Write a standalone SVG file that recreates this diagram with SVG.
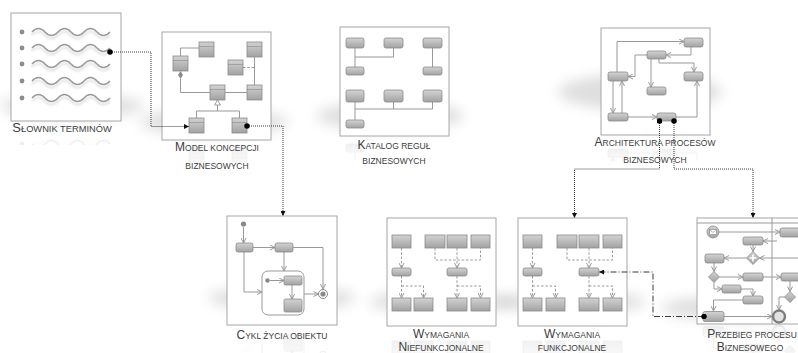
<svg xmlns="http://www.w3.org/2000/svg" xmlns:xlink="http://www.w3.org/1999/xlink" width="798" height="353" viewBox="0 0 798 353">
  <defs>
    <style>
      .frame{fill:#fff;stroke:#a6a6a6;stroke-width:1}
      .sh{fill:url(#grey);stroke:#8a8a8a;stroke-width:0.8}
      .hdr{stroke:#8a8a8a;stroke-width:0.6}
      .ln{fill:none;stroke:#999;stroke-width:1}
      .lnA{fill:none;stroke:#999;stroke-width:1;marker-end:url(#open)}
      .dsh{fill:none;stroke:#999;stroke-width:1;stroke-dasharray:2.5 1.8}
      .dshA{fill:none;stroke:#999;stroke-width:1;stroke-dasharray:2.5 1.8;marker-end:url(#open)}
      .conn{fill:none;stroke:#3a3a3a;stroke-width:1;stroke-dasharray:1 1;marker-start:url(#dot);marker-end:url(#tri)}
      .dashdot{fill:none;stroke:#3a3a3a;stroke-width:1;stroke-dasharray:6 2 1 2;marker-start:url(#dot);marker-end:url(#tri)}
      .wave{fill:none;stroke:#9a9a9a;stroke-width:1.4}
      .waveSh{fill:none;stroke:#000;stroke-width:2.2;opacity:0.12}
      .lbl{font-family:"Liberation Sans",Arial,sans-serif;font-size:8.5px;fill:#3c3c3c;text-anchor:middle}
      .cap{font-size:12px}
      .floor{fill:#000;opacity:0.13;filter:url(#soft)}
      .refl{opacity:0.14}
    </style>
    <linearGradient id="grey" x1="0" y1="0" x2="0" y2="1">
      <stop offset="0" stop-color="#d3d3d3"/>
      <stop offset="1" stop-color="#a2a2a2"/>
    </linearGradient>
    <filter id="soft" x="-50%" y="-100%" width="200%" height="300%">
      <feGaussianBlur stdDeviation="7"/>
    </filter>
    <filter id="blur1" x="-10%" y="-50%" width="120%" height="200%">
      <feGaussianBlur stdDeviation="1"/>
    </filter>
    <marker id="open" viewBox="0 0 6 6" refX="5.5" refY="3" markerWidth="6" markerHeight="6" markerUnits="userSpaceOnUse" orient="auto">
      <path d="M0.5,0.5 L5.5,3 L0.5,5.5" fill="none" stroke="#999" stroke-width="1"/>
    </marker>
    <marker id="tri" viewBox="0 0 6 6" refX="6" refY="3" markerWidth="5" markerHeight="5" markerUnits="userSpaceOnUse" orient="auto">
      <path d="M0,0 L6,3 L0,6 z" fill="#111"/>
    </marker>
    <marker id="dot" viewBox="0 0 6 6" refX="3" refY="3" markerWidth="5.5" markerHeight="5.5" markerUnits="userSpaceOnUse">
      <circle cx="3" cy="3" r="3" fill="#000"/>
    </marker>
    <clipPath id="cpSl"><rect x="0" y="121" width="130" height="24"/></clipPath>
    <clipPath id="cpMo"><rect x="160" y="140" width="115" height="24"/></clipPath>
    <clipPath id="cpKa"><rect x="338" y="136" width="115" height="24"/></clipPath>
    <clipPath id="cpAr"><rect x="599" y="135" width="115" height="26"/></clipPath>
    <clipPath id="cpCy"><rect x="225" y="325" width="115" height="28"/></clipPath>
    <clipPath id="cpWn"><rect x="385" y="326" width="115" height="27"/></clipPath>
    <clipPath id="cpWf"><rect x="516" y="326" width="115" height="27"/></clipPath>
    <clipPath id="cpPr"><rect x="695" y="324" width="110" height="29"/></clipPath>
  </defs>

  <rect width="798" height="353" fill="#fff"/>

  <!-- soft floor shadows under the panels -->
  <g id="floor-shadows">
    <ellipse class="floor" cx="72" cy="106" rx="72" ry="12"/>
    <ellipse class="floor" cx="214" cy="122" rx="74" ry="13"/>
    <ellipse class="floor" cx="390" cy="116" rx="74" ry="14"/>
    <ellipse class="floor" cx="640" cy="92" rx="82" ry="18"/>
    <ellipse class="floor" cx="282" cy="298" rx="74" ry="12"/>
    <ellipse class="floor" cx="441" cy="302" rx="72" ry="11"/>
    <ellipse class="floor" cx="572" cy="302" rx="74" ry="11"/>
    <ellipse class="floor" cx="738" cy="308" rx="78" ry="12"/>
  </g>

  <!-- Słownik terminów -->
  <g id="slownik">
    <rect class="frame" x="11" y="13" width="110" height="108"/>
    <g id="slownik-art">
      <g fill="#8c8c8c">
        <circle cx="22" cy="32" r="2.4"/>
        <circle cx="22" cy="48" r="2.4"/>
        <circle cx="22" cy="64" r="2.4"/>
        <circle cx="22" cy="81" r="2.4"/>
        <circle cx="22" cy="98" r="2.4"/>
      </g>
      <g filter="url(#blur1)">
        <path class="waveSh" d="M32,35 q6.5,-7 13,0 t13,0 t13,0 t13,0 t13,0 t13,0"/>
        <path class="waveSh" d="M32,51 q6.5,-7 13,0 t13,0 t13,0 t13,0 t13,0 t13,0"/>
        <path class="waveSh" d="M32,67 q6.5,-7 13,0 t13,0 t13,0 t13,0 t13,0 t13,0"/>
        <path class="waveSh" d="M32,84 q6.5,-7 13,0 t13,0 t13,0 t13,0 t13,0 t13,0"/>
        <path class="waveSh" d="M32,101 q6.5,-7 13,0 t13,0 t13,0 t13,0 t13,0 t13,0"/>
      </g>
      <path class="wave" d="M32,32 q6.5,-7 13,0 t13,0 t13,0 t13,0 t13,0 t13,0"/>
      <path class="wave" d="M32,48 q6.5,-7 13,0 t13,0 t13,0 t13,0 t13,0 t13,0"/>
      <path class="wave" d="M32,64 q6.5,-7 13,0 t13,0 t13,0 t13,0 t13,0 t13,0"/>
      <path class="wave" d="M32,81 q6.5,-7 13,0 t13,0 t13,0 t13,0 t13,0 t13,0"/>
      <path class="wave" d="M32,98 q6.5,-7 13,0 t13,0 t13,0 t13,0 t13,0 t13,0"/>
    </g>
    <g clip-path="url(#cpSl)"><use xlink:href="#slownik-art" class="refl" transform="matrix(1 0 0 -1 0 242)"/></g>
    <text class="lbl" x="62" y="132" style="font-size:9.3px"><tspan style="font-size:13px">S</tspan>ŁOWNIK TERMINÓW</text>
  </g>

  <!-- Model koncepcji biznesowych -->
  <g id="model">
    <rect class="frame" x="162" y="32" width="109" height="108"/>
    <g id="model-art">
      <path class="ln" d="M180.5,56 V48 H199"/>
      <polygon points="180.5,71 183,75 180.5,79 178,75" fill="#8a8a8a"/>
      <path class="ln" d="M180.5,79 V92.5 H210"/>
      <path class="ln" d="M225,92.5 H247"/>
      <path class="ln" d="M254.5,85 V57"/>
      <path class="dsh" d="M243,67.5 H254.5"/>
      <path class="ln" d="M217.5,105 V111 M196.5,118 V111 H239.5 V118"/>
      <polygon points="217.5,100 220.5,105 214.5,105" fill="#fff" stroke="#8a8a8a" stroke-width="0.8"/>
      <g class="sh">
        <rect x="199" y="42" width="15" height="15"/>
        <rect x="247" y="42" width="15" height="15"/>
        <rect x="173" y="56" width="15" height="15"/>
        <rect x="228" y="60" width="15" height="15"/>
        <rect x="210" y="85" width="15" height="15"/>
        <rect x="247" y="85" width="15" height="15"/>
        <rect x="189" y="118" width="15" height="15"/>
        <rect x="232" y="118" width="15" height="15"/>
      </g>
      <path class="hdr" d="M199,46.5 h15 M247,46.5 h15 M173,60.5 h15 M228,64.5 h15 M210,89.5 h15 M247,89.5 h15 M189,122.5 h15 M232,122.5 h15"/>
    </g>
    <g clip-path="url(#cpMo)"><use xlink:href="#model-art" class="refl" transform="matrix(1 0 0 -1 0 280)"/></g>
    <text class="lbl" x="217" y="151"><tspan class="cap">M</tspan>ODEL KONCEPCJI</text>
    <text class="lbl" x="217" y="169">BIZNESOWYCH</text>
  </g>

  <!-- Katalog reguł biznesowych -->
  <g id="katalog">
    <rect class="frame" x="340" y="27" width="109" height="109"/>
    <g id="katalog-art">
      <path class="ln" d="M355,48 V67 M355,57 H393.5 V48 M432.5,48 V67"/>
      <path class="ln" d="M355,102 V120 M355,109 H432.5 V102 M393.5,102 V109"/>
      <g class="sh">
        <rect x="346" y="38" width="18" height="10" rx="2"/>
        <rect x="384" y="38" width="19" height="10" rx="2"/>
        <rect x="423" y="38" width="19" height="10" rx="2"/>
        <rect x="346" y="67" width="18" height="8" rx="2"/>
        <rect x="423" y="67" width="19" height="8" rx="2"/>
        <rect x="346" y="90" width="18" height="12" rx="2"/>
        <rect x="384" y="90" width="19" height="12" rx="2"/>
        <rect x="423" y="90" width="19" height="12" rx="2"/>
        <rect x="346" y="120" width="18" height="8" rx="2"/>
      </g>
    </g>
    <g clip-path="url(#cpKa)"><use xlink:href="#katalog-art" class="refl" transform="matrix(1 0 0 -1 0 272)"/></g>
    <text class="lbl" x="394" y="149"><tspan class="cap">K</tspan>ATALOG REGUŁ</text>
    <text class="lbl" x="394" y="164">BIZNESOWYCH</text>
  </g>

  <!-- Architektura procesów biznesowych -->
  <g id="architektura">
    <rect class="frame" x="601" y="28" width="109" height="107"/>
    <g id="architektura-art">
      <path class="lnA" d="M617,72 V41.5 H684"/>
      <path class="lnA" d="M691,47 V55 H666"/>
      <path class="lnA" d="M647,55 H635 V76.5 H628"/>
      <path class="lnA" d="M651,59 V87"/>
      <path class="lnA" d="M659,59 V63 H694 V72"/>
      <path class="lnA" d="M613,81 V113"/>
      <path class="lnA" d="M622,113 V81"/>
      <path class="lnA" d="M628,117 H657"/>
      <path class="lnA" d="M676,117 H697 V81"/>
      <g class="sh">
        <rect x="684" y="38" width="19" height="9" rx="2"/>
        <rect x="647" y="51" width="19" height="8" rx="2"/>
        <rect x="684" y="72" width="19" height="9" rx="2"/>
        <rect x="608" y="72" width="20" height="9" rx="2"/>
        <rect x="647" y="87" width="19" height="8" rx="2"/>
        <rect x="608" y="113" width="20" height="8" rx="2"/>
        <rect x="657" y="113" width="19" height="8" rx="2"/>
      </g>
    </g>
    <g clip-path="url(#cpAr)"><use xlink:href="#architektura-art" class="refl" transform="matrix(1 0 0 -1 0 270)"/></g>
    <text class="lbl" x="655" y="146"><tspan class="cap">A</tspan>RCHITEKTURA PROCESÓW</text>
    <text class="lbl" x="655" y="163">BIZNESOWYCH</text>
  </g>

  <!-- Cykl życia obiektu -->
  <g id="cykl">
    <rect class="frame" x="227" y="216" width="110" height="109"/>
    <g id="cykl-art">
      <rect x="262" y="271" width="42" height="44" rx="6" fill="#fff" stroke="#9a9a9a" stroke-width="1"/>
      <circle cx="243.5" cy="224" r="2.6" fill="#888"/>
      <path class="lnA" d="M243.5,227 V243"/>
      <path class="lnA" d="M253,247.5 H275"/>
      <path class="lnA" d="M293,247.5 H323 V289"/>
      <path class="lnA" d="M284,252 V271"/>
      <path class="lnA" d="M244,252 V292 H262"/>
      <circle cx="267.5" cy="280.5" r="2.2" fill="#888"/>
      <path class="lnA" d="M270,280.5 H284"/>
      <path class="lnA" d="M292,285 V299"/>
      <path class="lnA" d="M304,294 H318.5"/>
      <circle cx="323" cy="294" r="4.5" fill="#fff" stroke="#8a8a8a" stroke-width="1"/>
      <circle cx="323" cy="294" r="2.6" fill="#8a8a8a"/>
      <g class="sh">
        <rect x="236" y="243" width="17" height="9" rx="2"/>
        <rect x="275" y="243" width="18" height="9" rx="2"/>
        <rect x="284" y="276" width="18" height="9" rx="1.5"/>
        <rect x="284" y="299" width="18" height="13" rx="1.5"/>
      </g>
    </g>
    <g clip-path="url(#cpCy)"><use xlink:href="#cykl-art" class="refl" transform="matrix(1 0 0 -1 0 650)"/></g>
    <text class="lbl" x="282" y="339"><tspan class="cap">C</tspan>YKL ŻYCIA OBIEKTU</text>
  </g>

  <!-- Wymagania niefunkcjonalne -->
  <g id="wym-niefunkcjonalne">
    <rect class="frame" x="387" y="218" width="109" height="108"/>
    <g id="wn-art">
      <path class="dshA" d="M401.5,248 V268"/>
      <path class="dsh" d="M435,248 V260 H480.5 V248"/>
      <path class="dshA" d="M457,248 V268"/>
      <path class="dshA" d="M401.5,276 V298"/>
      <path class="dshA" d="M401.5,286 H423.5 V298"/>
      <path class="dshA" d="M457,276 V298"/>
      <path class="dshA" d="M457,286 H480.5 V298"/>
      <g class="sh">
        <rect x="392" y="235" width="19" height="13"/>
        <rect x="425" y="235" width="20" height="13"/>
        <rect x="447" y="235" width="20" height="13"/>
        <rect x="471" y="235" width="19" height="13"/>
        <rect x="392" y="268" width="19" height="8" rx="2"/>
        <rect x="447" y="268" width="20" height="8" rx="2"/>
        <rect x="392" y="298" width="19" height="13"/>
        <rect x="414" y="298" width="19" height="13"/>
        <rect x="447" y="298" width="20" height="13"/>
        <rect x="471" y="298" width="19" height="13"/>
      </g>
    </g>
    <g clip-path="url(#cpWn)"><use xlink:href="#wn-art" class="refl" transform="matrix(1 0 0 -1 0 652)"/></g>
    <text class="lbl" x="441" y="338"><tspan class="cap">W</tspan>YMAGANIA</text>
    <text class="lbl" x="441" y="350.5"><tspan class="cap">N</tspan>IEFUNKCJONALNE</text>
  </g>

  <!-- Wymagania funkcjonalne -->
  <g id="wym-funkcjonalne">
    <rect class="frame" x="518" y="218" width="109" height="108"/>
    <g id="wf-art">
      <path class="dshA" d="M532.5,248 V268"/>
      <path class="dsh" d="M567,248 V260 H612.5 V248"/>
      <path class="dshA" d="M589,248 V268"/>
      <path class="dshA" d="M532.5,276 V298"/>
      <path class="dshA" d="M532.5,286 H555.5 V298"/>
      <path class="dshA" d="M589,276 V298"/>
      <path class="dshA" d="M589,286 H612.5 V298"/>
      <g class="sh">
        <rect x="523" y="235" width="19" height="13"/>
        <rect x="557" y="235" width="20" height="13"/>
        <rect x="579" y="235" width="20" height="13"/>
        <rect x="603" y="235" width="19" height="13"/>
        <rect x="523" y="268" width="19" height="8" rx="2"/>
        <rect x="579" y="268" width="20" height="8" rx="2"/>
        <rect x="523" y="298" width="19" height="13"/>
        <rect x="546" y="298" width="19" height="13"/>
        <rect x="579" y="298" width="20" height="13"/>
        <rect x="603" y="298" width="19" height="13"/>
      </g>
    </g>
    <g clip-path="url(#cpWf)"><use xlink:href="#wf-art" class="refl" transform="matrix(1 0 0 -1 0 652)"/></g>
    <text class="lbl" x="572" y="338"><tspan class="cap">W</tspan>YMAGANIA</text>
    <text class="lbl" x="572" y="350.5">FUNKCJONALNE</text>
  </g>

  <!-- Przebieg procesu biznesowego -->
  <g id="przebieg">
    <rect class="frame" x="697" y="218" width="112" height="106"/>
    <path class="ln" d="M697,223 H809 M772,218 V324" stroke="#a6a6a6"/>
    <g id="przebieg-art">
      <path class="lnA" d="M719,232 H780"/>
      <path class="lnA" d="M777,241 H763"/>
      <path class="lnA" d="M753,245 V251.5"/>
      <path class="lnA" d="M798,258 H759.5"/>
      <path class="lnA" d="M746.5,258 H724"/>
      <path class="lnA" d="M714,263 V271.5"/>
      <path class="lnA" d="M719.5,277 H743"/>
      <path class="lnA" d="M763,277 H781"/>
      <path class="lnA" d="M714,282.5 V289 H722"/>
      <path class="lnA" d="M741,289 H753 V296"/>
      <path class="lnA" d="M743,300 H713.5 V311"/>
      <path class="lnA" d="M724,316.5 H772"/>
      <path class="lnA" d="M790,281 V291.5"/>
      <path class="lnA" d="M784.5,297 H779 V310"/>
      <circle cx="713" cy="232" r="6" class="sh"/>
      <rect x="709.5" y="229.5" width="7" height="5" fill="#fff" stroke="#888" stroke-width="0.6"/>
      <path d="M709.5,229.5 L713,232.5 L716.5,229.5" fill="none" stroke="#888" stroke-width="0.6"/>
      <g class="sh">
        <rect x="780" y="228" width="22" height="9" rx="2"/>
        <rect x="743" y="237" width="20" height="8" rx="2"/>
        <rect x="705" y="254" width="19" height="9" rx="2"/>
        <rect x="743" y="273" width="20" height="8" rx="2"/>
        <rect x="781" y="273" width="21" height="8" rx="2"/>
        <rect x="722" y="285" width="19" height="8" rx="2"/>
        <rect x="743" y="296" width="20" height="8" rx="2"/>
        <rect x="703" y="311.5" width="21" height="10" rx="2"/>
        <polygon points="753,251.5 759.5,258 753,264.5 746.5,258"/>
        <polygon points="714,271.5 719.5,277 714,282.5 708.5,277"/>
        <polygon points="790,291.5 795.5,297 790,302.5 784.5,297"/>
      </g>
      <path d="M753,254.5 V261.5 M749.5,258 H756.5" stroke="#fff" stroke-width="1.6"/>
      <circle cx="779" cy="316.5" r="6" fill="#e2e2e2" stroke="#7e7e7e" stroke-width="2.4"/>
    </g>
    <g clip-path="url(#cpPr)"><use xlink:href="#przebieg-art" class="refl" transform="matrix(1 0 0 -1 0 648)"/></g>
    <text class="lbl" x="752" y="338"><tspan class="cap">P</tspan>RZEBIEG PROCESU</text>
    <text class="lbl" x="750" y="350.5"><tspan class="cap">B</tspan>IZNESOWEGO</text>
  </g>

  <!-- links between the panels -->
  <g id="connectors">
    <path class="conn" d="M110,52 H151 V126.5 H189"/>
    <path class="conn" d="M247,126 H283 V216"/>
    <path class="conn" d="M659.5,121 V169 H574.5 V218"/>
    <path class="conn" d="M674,121 V169 H753 V218"/>
    <path class="dashdot" d="M704,316.5 H653 V272 H599"/>
  </g>
</svg>
